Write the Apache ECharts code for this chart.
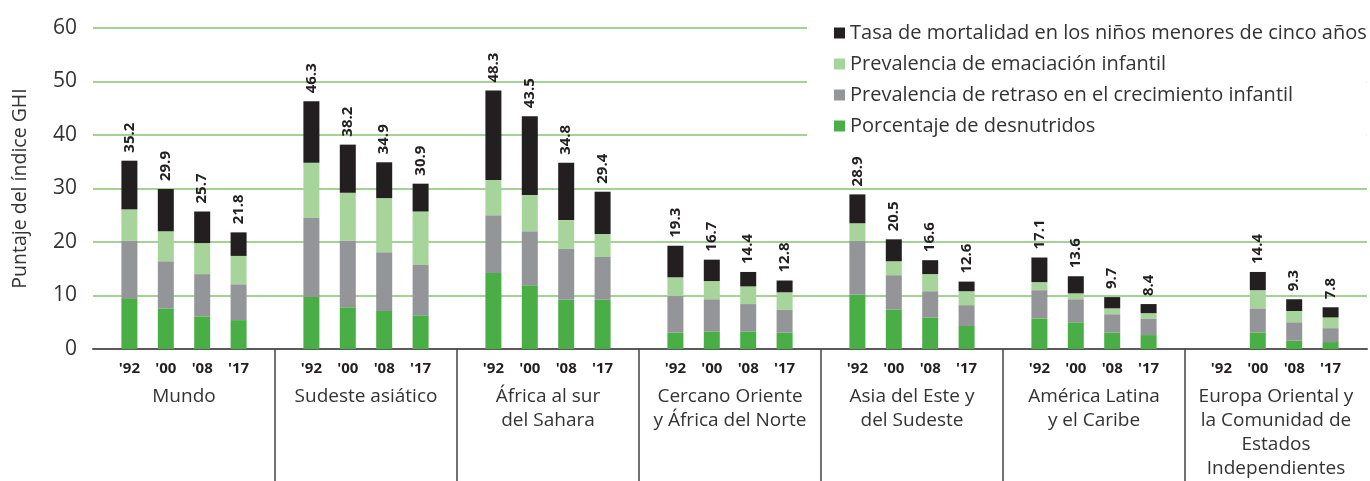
<!DOCTYPE html>
<html>
<head>
<meta charset="utf-8">
<script src="https://cdn.jsdelivr.net/npm/echarts@6/dist/echarts.min.js"></script>
<style>
  html, body { margin: 0; padding: 0; background: #fff; }
  #main { width: 1370px; height: 481px; }
</style>
</head>
<body>
<div id="main"></div>
<script>
var years = ["'92", "'00", "'08", "'17"]
var regions = [
  'Mundo',
  'Sudeste asiático',
  'África al sur\ndel Sahara',
  'Cercano Oriente\ny África del Norte',
  'Asia del Este y\ndel Sudeste',
  'América Latina\ny el Caribe',
  'Europa Oriental y\nla Comunidad de\nEstados\nIndependientes'
]

// valores por región, en el orden '92 '00 '08 '17
var desnutridos = [
  9.5, 7.6, 6.1, 5.4,
  9.7, 7.8, 7.1, 6.3,
  14.2, 11.9, 9.2, 9.2,
  3.1, 3.3, 3.3, 3.1,
  10.2, 7.4, 5.9, 4.3,
  5.7, 5.0, 3.1, 2.6,
  null, 3.1, 1.6, 1.3
]
var retraso = [
  10.8, 8.8, 7.9, 6.7,
  14.8, 12.5, 11.0, 9.4,
  10.8, 10.1, 9.5, 8.0,
  6.8, 6.0, 5.1, 4.2,
  10.0, 6.4, 4.9, 3.9,
  5.3, 4.3, 3.4, 3.1,
  null, 4.5, 3.4, 2.6
]
var emaciacion = [
  5.8, 5.6, 5.8, 5.3,
  10.3, 8.9, 10.1, 10.0,
  6.6, 6.8, 5.4, 4.3,
  3.5, 3.4, 3.3, 3.3,
  3.3, 2.6, 3.2, 2.6,
  1.5, 1.1, 1.1, 1.0,
  null, 3.4, 2.1, 2.0
]
var mortalidad = [
  9.1, 7.9, 5.9, 4.4,
  11.5, 9.0, 6.7, 5.2,
  16.7, 14.7, 10.7, 7.9,
  5.9, 4.0, 2.7, 2.2,
  5.4, 4.1, 2.6, 1.8,
  4.6, 3.2, 2.1, 1.7,
  null, 3.4, 2.2, 1.9
]
var totales = [
  35.2, 29.9, 25.7, 21.8,
  46.3, 38.2, 34.9, 30.9,
  48.3, 43.5, 34.8, 29.4,
  19.3, 16.7, 14.4, 12.8,
  28.9, 20.5, 16.6, 12.6,
  17.1, 13.6, 9.7, 8.4,
  null, 14.4, 9.3, 7.8
]

var names = [
  'Tasa de mortalidad en los niños menores de cinco años',
  'Prevalencia de emaciación infantil',
  'Prevalencia de retraso en el crecimiento infantil',
  'Porcentaje de desnutridos'
]

// eje de categorías: un hueco antes de cada región y al final
var cats = []
var slot = [] // índice del dato para cada categoría (-1 = hueco)
regions.forEach(function(r, i) {
  cats.push('')
  slot.push(-1)
  years.forEach(function(y, j) {
    cats.push(y)
    slot.push(i * years.length + j)
  })
})
cats.push('')
slot.push(-1)

function spread(arr) {
  return slot.map(function(k) { return k < 0 ? null : arr[k] })
}
var totalCol = spread(totales)

var font = 'Open Sans'
var dark = '#231f20'

var myChart = echarts.init(document.getElementById('main'))
var option = {
  animation: false,
  textStyle: { fontFamily: font },
  grid: { left: 93, right: 3, top: 28, bottom: 132 },
  legend: {
    orient: 'vertical',
    left: 807,
    top: 5,
    padding: [18, 0, 8, 27],
    backgroundColor: '#fff',
    itemWidth: 11,
    itemHeight: 11,
    itemGap: 11,
    icon: 'rect',
    data: names,
    textStyle: { fontSize: 20, lineHeight: 20, color: '#333', fontFamily: font }
  },
  xAxis: [{
    type: 'category',
    data: cats,
    boundaryGap: false,
    axisLine: { lineStyle: { color: '#5a5a5a', width: 2 } },
    axisTick: {
      show: true,
      interval: function(index) { return index % 5 === 0 && index > 0 && index < 35 },
      length: 135,
      lineStyle: { color: '#444', width: 1.5 }
    },
    axisLabel: {
      interval: 0,
      margin: 12,
      fontSize: 15,
      fontWeight: 'bold',
      color: dark,
      fontFamily: font
    },
    splitLine: { show: false }
  }, {
    type: 'category',
    data: regions,
    position: 'bottom',
    boundaryGap: true,
    axisLine: { show: false },
    axisTick: { show: false },
    axisLabel: {
      interval: 0,
      margin: 36,
      fontSize: 19,
      lineHeight: 24,
      color: '#333',
      verticalAlign: 'top',
      fontFamily: font
    }
  }],
  yAxis: {
    type: 'value',
    min: 0,
    max: 60,
    interval: 10,
    name: 'Puntaje del índice GHI',
    nameLocation: 'middle',
    nameGap: 63,
    nameTextStyle: { fontSize: 19.5, color: '#333', fontFamily: font },
    axisLine: { show: false },
    axisTick: { show: false },
    axisLabel: { margin: 16, fontSize: 21, color: '#333', fontFamily: font },
    splitLine: { lineStyle: { color: '#a3d394', width: 2 } }
  },
  series: [{
    name: names[3],
    type: 'bar',
    stack: 'ghi',
    barWidth: 16,
    itemStyle: { color: '#4aae47' },
    data: spread(desnutridos)
  }, {
    name: names[2],
    type: 'bar',
    stack: 'ghi',
    barWidth: 16,
    itemStyle: { color: '#939598' },
    data: spread(retraso)
  }, {
    name: names[1],
    type: 'bar',
    stack: 'ghi',
    barWidth: 16,
    itemStyle: { color: '#a6d49a' },
    data: spread(emaciacion)
  }, {
    name: names[0],
    type: 'bar',
    stack: 'ghi',
    barWidth: 16,
    itemStyle: { color: dark },
    label: {
      show: true,
      position: 'top',
      rotate: 90,
      align: 'left',
      verticalAlign: 'middle',
      distance: 8,
      fontSize: 15,
      fontWeight: 'bold',
      color: dark,
      fontFamily: font,
      formatter: function(p) {
        var t = totalCol[p.dataIndex]
        return t == null ? '' : t.toFixed(1)
      }
    },
    data: spread(mortalidad)
  }]
}
myChart.setOption(option)
</script>
</body>
</html>
